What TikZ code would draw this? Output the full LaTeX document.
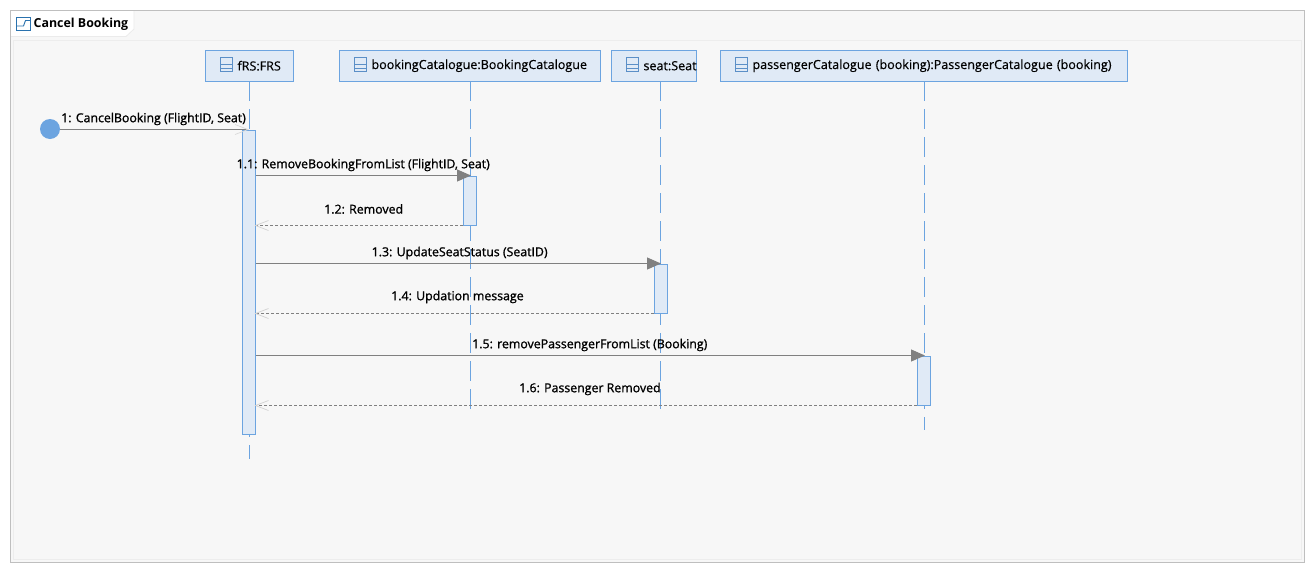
\documentclass[tikz,border=0pt]{standalone}
\usepackage{fontspec}
\setmainfont{Open Sans}
\newfontfamily\labfont[FakeBold=1.2]{Open Sans}
\newfontfamily\headfont[FakeBold=0.4]{Open Sans}
\usetikzlibrary{arrows.meta}
\definecolor{bluel}{HTML}{6CA4E0}
\definecolor{iconb}{HTML}{5B8FC7}
\definecolor{titleb}{HTML}{2A72AE}
\definecolor{fillb}{HTML}{E0EAF6}
\definecolor{msg}{HTML}{808080}
\definecolor{panel}{HTML}{F7F7F7}
\tikzset{
  x=1pt,y=-1pt,
  lifebox/.style={draw=bluel,fill=fillb,line width=1pt,minimum height=30.5pt,inner sep=0pt,anchor=north west,font=\headfont\fontsize{12.55}{14}\selectfont},
  lifeline/.style={draw=bluel,line width=0.9pt,dash pattern=on 20pt off 8pt},
  actbar/.style={draw=bluel,fill=fillb,line width=1pt,inner sep=0pt,minimum width=13pt,anchor=north west},
  callmsg/.style={draw=msg,line width=1.1pt,-{Triangle[length=14pt,width=12pt,fill=msg]}},
  retmsg/.style={draw=msg,line width=0.9pt,dash pattern=on 3pt off 2pt,shorten >=-1.5pt,-{Straight Barb[length=13pt,width=10pt,color=black!18,line width=0.7pt]}},
  msglabel/.style={font=\labfont\fontsize{12.35}{14}\selectfont,inner sep=0pt,text=black},
}
\newcommand{\lifeicon}[2]{%
  \draw[draw=#2,line width=0.9pt] (#1,57.5) rectangle ++(11.5,14) (#1,64) -- ++(11.5,0) (#1,68) -- ++(11.5,0);}
\begin{document}
\begin{tikzpicture}
\useasboundingbox (0,0) rectangle (1315,573);
\fill[white] (0,0) rectangle (1315,573);
\draw[draw=black!25,line width=1pt,fill=panel] (10.5,10.5) rectangle (1304,562);
\draw[draw=black!7,line width=1pt] (13,40) -- (1301,40) -- (1301,559) -- (13,559) -- cycle;
\fill[white] (11,11) -- (134,11) -- (134,29) -- (126,36.5) -- (11,36.5) -- cycle;
\draw[draw=black!8,line width=0.8pt] (134,11) -- (134,29) -- (126,36.5) -- (11,36.5);
% title
\draw[draw=titleb,line width=0.9pt] (16.5,17.5) rectangle (30.5,30);
\draw[draw=titleb,line width=0.9pt] (16.5,26) -- (23.5,26) -- (25.5,20.5) -- (30.5,20.5);
\node[font=\bfseries\fontsize{12.4}{14}\selectfont,anchor=west,inner sep=0pt] (title) at (33.5,24.5) {Cancel Booking};
% lifeline heads
\node[lifebox,minimum width=88pt,text width=88pt,align=left] (frs) at (205,50) {\hspace{32pt}\rlap{fRS:FRS}};
\node[lifebox,minimum width=261pt,text width=261pt,align=left] (bc) at (339,50) {\hspace{32pt}\rlap{bookingCatalogue:BookingCatalogue}};
\node[lifebox,minimum width=84.5pt,text width=84.5pt,align=left] (seat) at (611,50) {\hspace{32pt}\rlap{seat:Seat}};
\node[lifebox,minimum width=407pt,text width=407pt,align=left] (pc) at (720,50) {\hspace{32pt}\rlap{passengerCatalogue (booking):PassengerCatalogue (booking)}};
\lifeicon{220.5}{iconb}
\lifeicon{354.5}{iconb}
\lifeicon{626.5}{iconb}
\lifeicon{735.5}{iconb}
% lifelines
\coordinate (frsE) at (249,459);
\coordinate (bcE) at (470.5,410);
\coordinate (seatE) at (660.5,410);
\coordinate (pcE) at (924.5,430);
\draw[lifeline] (249,81) -- (frsE);
\draw[lifeline] (470.5,81) -- (bcE);
\draw[lifeline] (660.5,81) -- (seatE);
\draw[lifeline] (924.5,81) -- (pcE);
% activations
\node[actbar,minimum height=304pt] (a0) at (242,130) {};
\node[actbar,minimum height=49pt] (a1) at (463,176) {};
\node[actbar,minimum height=49pt] (a2) at (654,264) {};
\node[actbar,minimum height=49pt] (a3) at (917,356) {};
% initial
\node[circle,fill=bluel,minimum size=20pt,inner sep=0pt] (init) at (50,129) {};
% messages
\draw[draw=msg,line width=1.1pt,-{Straight Barb[length=13pt,width=10pt,color=black!15,line width=0.7pt]}] (init.east |- 0,129.5) -- (249,129.5);
\draw[callmsg] (a0.east |- 0,175.5) -- (471,175.5);
\draw[retmsg] (a1.west |- 0,225.5) -- (a0.east |- 0,225.5);
\draw[callmsg] (a0.east |- 0,263.5) -- (661,263.5);
\draw[retmsg] (a2.west |- 0,313.5) -- (a0.east |- 0,313.5);
\draw[callmsg] (a0.east |- 0,355.5) -- (925,355.5);
\draw[retmsg] (a3.west |- 0,405.5) -- (a0.east |- 0,405.5);
% labels
\node[msglabel,anchor=west] (m1) at (61,119) {1: CancelBooking (FlightID, Seat)};
\node[msglabel,anchor=west] (m2) at (236.5,165) {1.1: RemoveBookingFromList (FlightID, Seat)};
\node[msglabel,anchor=west] (m3) at (324,209) {1.2: Removed};
\node[msglabel,anchor=west] (m4) at (371.5,253) {1.3: UpdateSeatStatus (SeatID)};
\node[msglabel,anchor=west] (m5) at (391,297) {1.4: Updation message};
\node[msglabel,anchor=west] (m6) at (472,345) {1.5: removePassengerFromList (Booking)};
\node[msglabel,anchor=west] (m7) at (519,389) {1.6: Passenger Removed};
\end{tikzpicture}
\end{document}
